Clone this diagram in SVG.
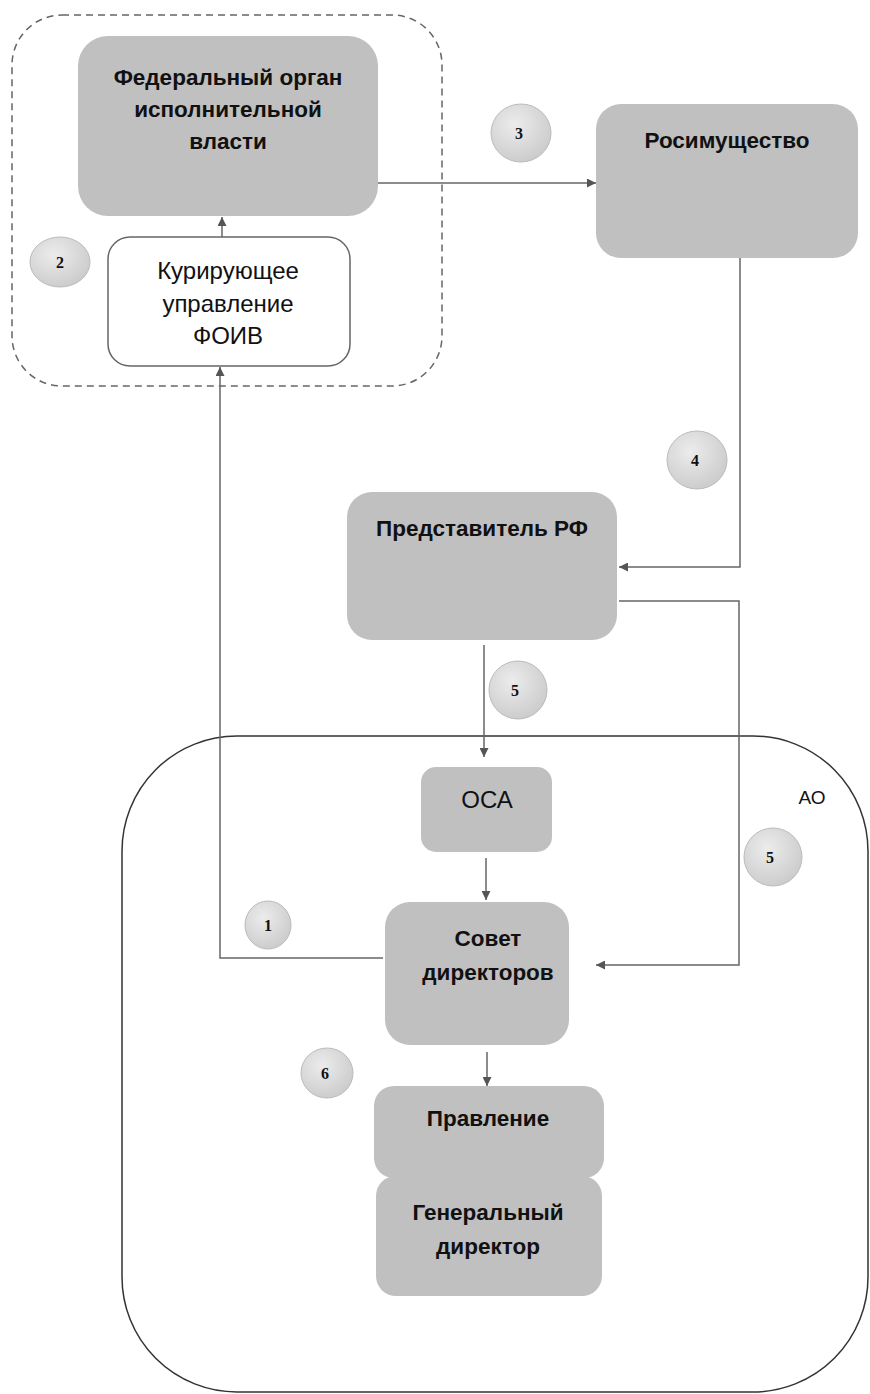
<svg xmlns="http://www.w3.org/2000/svg" width="870" height="1394" viewBox="0 0 870 1394">
<defs>
<marker id="arr" viewBox="0 0 10 10" refX="10" refY="5" markerWidth="9" markerHeight="9" markerUnits="userSpaceOnUse" orient="auto"><path d="M0,0 L10,5 L0,10 z" fill="#555"/></marker>
<radialGradient id="cg" cx="0.4" cy="0.35" r="0.75"><stop offset="0" stop-color="#ececec"/><stop offset="1" stop-color="#c8c8c8"/></radialGradient>
<style>
.box{fill:#c0c0c0;stroke:none}
.wbox{fill:#fff;stroke:#666;stroke-width:1.5}
.t{font-family:"Liberation Sans",Arial,sans-serif;font-size:22.5px;font-weight:bold;fill:#111;text-anchor:middle}
.tn{font-family:"Liberation Sans",Arial,sans-serif;font-size:24px;fill:#111;text-anchor:middle}
.num{font-family:"Liberation Serif","Times New Roman",serif;font-size:16px;font-weight:bold;fill:#111;text-anchor:middle}
.circ{fill:url(#cg);stroke:#bbb;stroke-width:1}
.conn{fill:none;stroke:#666;stroke-width:1.5}
</style>
</defs>
<rect width="870" height="1394" fill="#fff"/>
<g id="foiv-group">
<rect x="12" y="15" width="430" height="371" rx="50" fill="none" stroke="#666" stroke-width="1.5" stroke-dasharray="7,5"/>
</g>
<g id="ao-group">
<rect x="122" y="736" width="746" height="656" rx="115" fill="none" stroke="#333" stroke-width="1.5"/>
<text x="812" y="804" font-family="Liberation Sans,Arial,sans-serif" font-size="19" fill="#111" text-anchor="middle">АО</text>
</g>
<g id="connectors">
<path class="conn" d="M222,237 L222,217" marker-end="url(#arr)"/>
<path class="conn" d="M378,183 L596,183" marker-end="url(#arr)"/>
<path class="conn" d="M740,258 L740,567 L619,567" marker-end="url(#arr)"/>
<path class="conn" d="M619,601 L739,601 L739,965 L596,965" marker-end="url(#arr)"/>
<path class="conn" d="M484,645 L484,757" marker-end="url(#arr)"/>
<path class="conn" d="M486,858 L486,900" marker-end="url(#arr)"/>
<path class="conn" d="M383,958 L220,958 L220,367" marker-end="url(#arr)"/>
<path class="conn" d="M487,1052 L487,1086" marker-end="url(#arr)"/>
</g>
<g id="fed">
<rect class="box" x="78" y="36" width="300" height="180" rx="30"/>
<text class="t" x="228" y="85">Федеральный орган</text>
<text class="t" x="228" y="117">исполнительной</text>
<text class="t" x="228" y="149">власти</text>
</g>
<g id="kur">
<rect class="wbox" x="108" y="237" width="242" height="129" rx="22"/>
<text class="tn" x="228" y="279">Курирующее</text>
<text class="tn" x="228" y="312">управление</text>
<text class="tn" x="228" y="344">ФОИВ</text>
</g>
<g id="rosim">
<rect class="box" x="596" y="104" width="262" height="154" rx="25"/>
<text class="t" x="727" y="148">Росимущество</text>
</g>
<g id="predst">
<rect class="box" x="347" y="492" width="270" height="148" rx="25"/>
<text class="t" x="482" y="536">Представитель РФ</text>
</g>
<g id="osa">
<rect class="box" x="421" y="767" width="131" height="85" rx="15"/>
<text class="tn" x="487" y="808" font-size="22">ОСА</text>
</g>
<g id="sovet">
<rect class="box" x="385" y="902" width="184" height="143" rx="25"/>
<text class="t" x="488" y="946">Совет</text>
<text class="t" x="488" y="980">директоров</text>
</g>
<g id="pravl">
<rect class="box" x="374" y="1086" width="230" height="92" rx="20"/>
<text class="t" x="488" y="1126">Правление</text>
</g>
<g id="gendir">
<rect class="box" x="376" y="1176" width="226" height="120" rx="20"/>
<text class="t" x="488" y="1220">Генеральный</text>
<text class="t" x="488" y="1254">директор</text>
</g>
<g id="n1"><ellipse class="circ" cx="268" cy="925" rx="23" ry="24"/><text class="num" x="268" y="931">1</text></g>
<g id="n2"><ellipse class="circ" cx="60" cy="262" rx="30" ry="25"/><text class="num" x="60" y="268">2</text></g>
<g id="n3"><ellipse class="circ" cx="521" cy="133" rx="30" ry="29"/><text class="num" x="519" y="139">3</text></g>
<g id="n4"><ellipse class="circ" cx="697" cy="460" rx="30" ry="29"/><text class="num" x="695" y="466">4</text></g>
<g id="n5a"><ellipse class="circ" cx="518" cy="690" rx="29" ry="29"/><text class="num" x="515" y="696">5</text></g>
<g id="n5b"><ellipse class="circ" cx="773" cy="857" rx="29" ry="29"/><text class="num" x="770" y="863">5</text></g>
<g id="n6"><ellipse class="circ" cx="327" cy="1073" rx="26" ry="25"/><text class="num" x="325" y="1079">6</text></g>
</svg>
